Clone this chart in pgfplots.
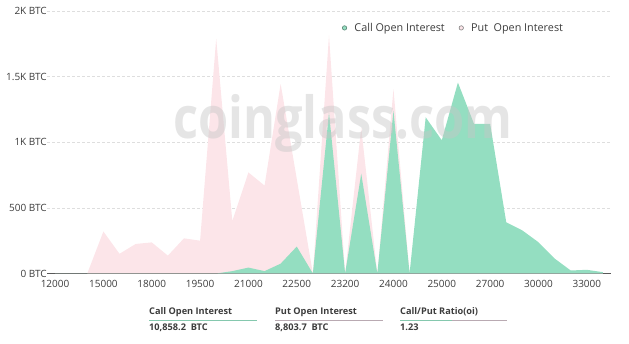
\documentclass[border=0pt]{standalone}
\usepackage{fontspec}
\setmainfont{Open Sans}
\usepackage{pgfplots}
\pgfplotsset{compat=1.18}
\definecolor{callgreen}{RGB}{148,222,193}
\definecolor{putpink}{RGB}{252,229,233}
\definecolor{gridc}{RGB}{222,222,222}
\definecolor{txt}{RGB}{60,60,60}
\definecolor{putline}{RGB}{185,170,178}
\begin{document}
\begin{tikzpicture}
\useasboundingbox (0,0) rectangle (629pt,344pt);
\begin{axis}[at={(47pt,70.5pt)}, anchor=south west, scale only axis,
  width=564pt, height=262.5pt,
  xmin=-0.5, xmax=34.5, ymin=0, ymax=2000,
  xtick={0,3,...,33},
  xticklabels={12000,15000,18000,19500,21000,22500,23200,24000,25000,27000,30000,33000},
  ytick={0,500,1000,1500,2000},
  yticklabels={0 BTC,500 BTC,1K BTC,1.5K BTC,2K BTC},
  major tick length=0pt,
  tick label style={font=\fontsize{10}{12}\selectfont, text=txt},
  yticklabel style={inner sep=0pt, anchor=east},
  xticklabel style={inner sep=0pt, anchor=north, yshift=-7pt},
  ymajorgrids, grid style={gridc, dash pattern=on 3pt off 2pt, line width=0.6pt},
  axis x line*=bottom, axis y line*=left,
  y axis line style={draw=none},
  x axis line style={-, draw=gray!70!black, line width=0.8pt},
  legend style={at={(0.514,0.97)}, anchor=north west, draw=none, fill=none,
    font=\fontsize{10.8}{13}\selectfont, text=txt, legend columns=2,
    /tikz/every even column/.append style={column sep=10pt}},
  legend cell align=left,
]
\addplot[fill=putpink, draw=none, forget plot] table {
x y
0 0
1 0
2 0
3 320
4 150
5 225
6 237
7 136
8 268
9 250
10 1790
11 400
12 770
13 670
14 1445
15 720
16 0
17 1815
18 0
19 1110
20 0
21 1405
22 0
23 300
24 200
25 150
26 100
27 80
28 50
29 30
30 20
31 10
32 5
33 5
34 2
} \closedcycle;
\addplot[fill=callgreen, draw=none, forget plot] table {
x y
0 0
1 0
2 0
3 0
4 0
5 0
6 0
7 0
8 0
9 0
10 0
11 18
12 45
13 18
14 75
15 205
16 0
17 1225
18 0
19 760
20 0
21 1240
22 0
23 1190
24 1015
25 1455
26 1140
27 1140
28 390
29 328
30 238
31 114
32 23
33 28
34 10
} \closedcycle;
\addlegendimage{legend image code/.code={\path (0,0) (0.42cm,0); \draw[fill=callgreen, draw=callgreen!60!black, line width=0.6pt] (0.15cm,0) circle (2.2pt);}}
\addlegendentry{Call Open Interest}
\addlegendimage{legend image code/.code={\path (0,0) (0.42cm,0); \draw[fill=putpink, draw=gray, line width=0.6pt] (0.15cm,0) circle (2.2pt);}}
\addlegendentry{Put\ \ Open Interest}
\end{axis}
\node[anchor=base, text=gray!45, opacity=0.45, font=\bfseries\fontsize{58}{58}\selectfont] at (343pt,205pt) {\scalebox{0.84}[1]{coinglass.com}};
\begin{scope}[font=\bfseries\fontsize{9.2}{11}\selectfont, text=txt]
\node[anchor=west, inner sep=0pt] at (149pt,32pt) {Call Open Interest};
\node[anchor=west, inner sep=0pt] at (149pt,16.5pt) {10,858.2\ \ BTC};
\draw[callgreen!90!black, line width=0.9pt] (149pt,24pt) -- (257pt,24pt);
\node[anchor=west, inner sep=0pt] at (275pt,32pt) {Put Open Interest};
\node[anchor=west, inner sep=0pt] at (275pt,16.5pt) {8,803.7\ \ BTC};
\draw[putline, line width=0.9pt] (275pt,24pt) -- (383pt,24pt);
\node[anchor=west, inner sep=0pt] at (400pt,32pt) {Call/Put Ratio(oi)};
\node[anchor=west, inner sep=0pt] at (400pt,16.5pt) {1.23};
\draw[putline, line width=0.9pt] (452pt,24pt) -- (507pt,24pt);
\draw[callgreen!90!black, line width=0.9pt] (400pt,24pt) -- (452pt,24pt);
\end{scope}
\end{tikzpicture}
\end{document}
